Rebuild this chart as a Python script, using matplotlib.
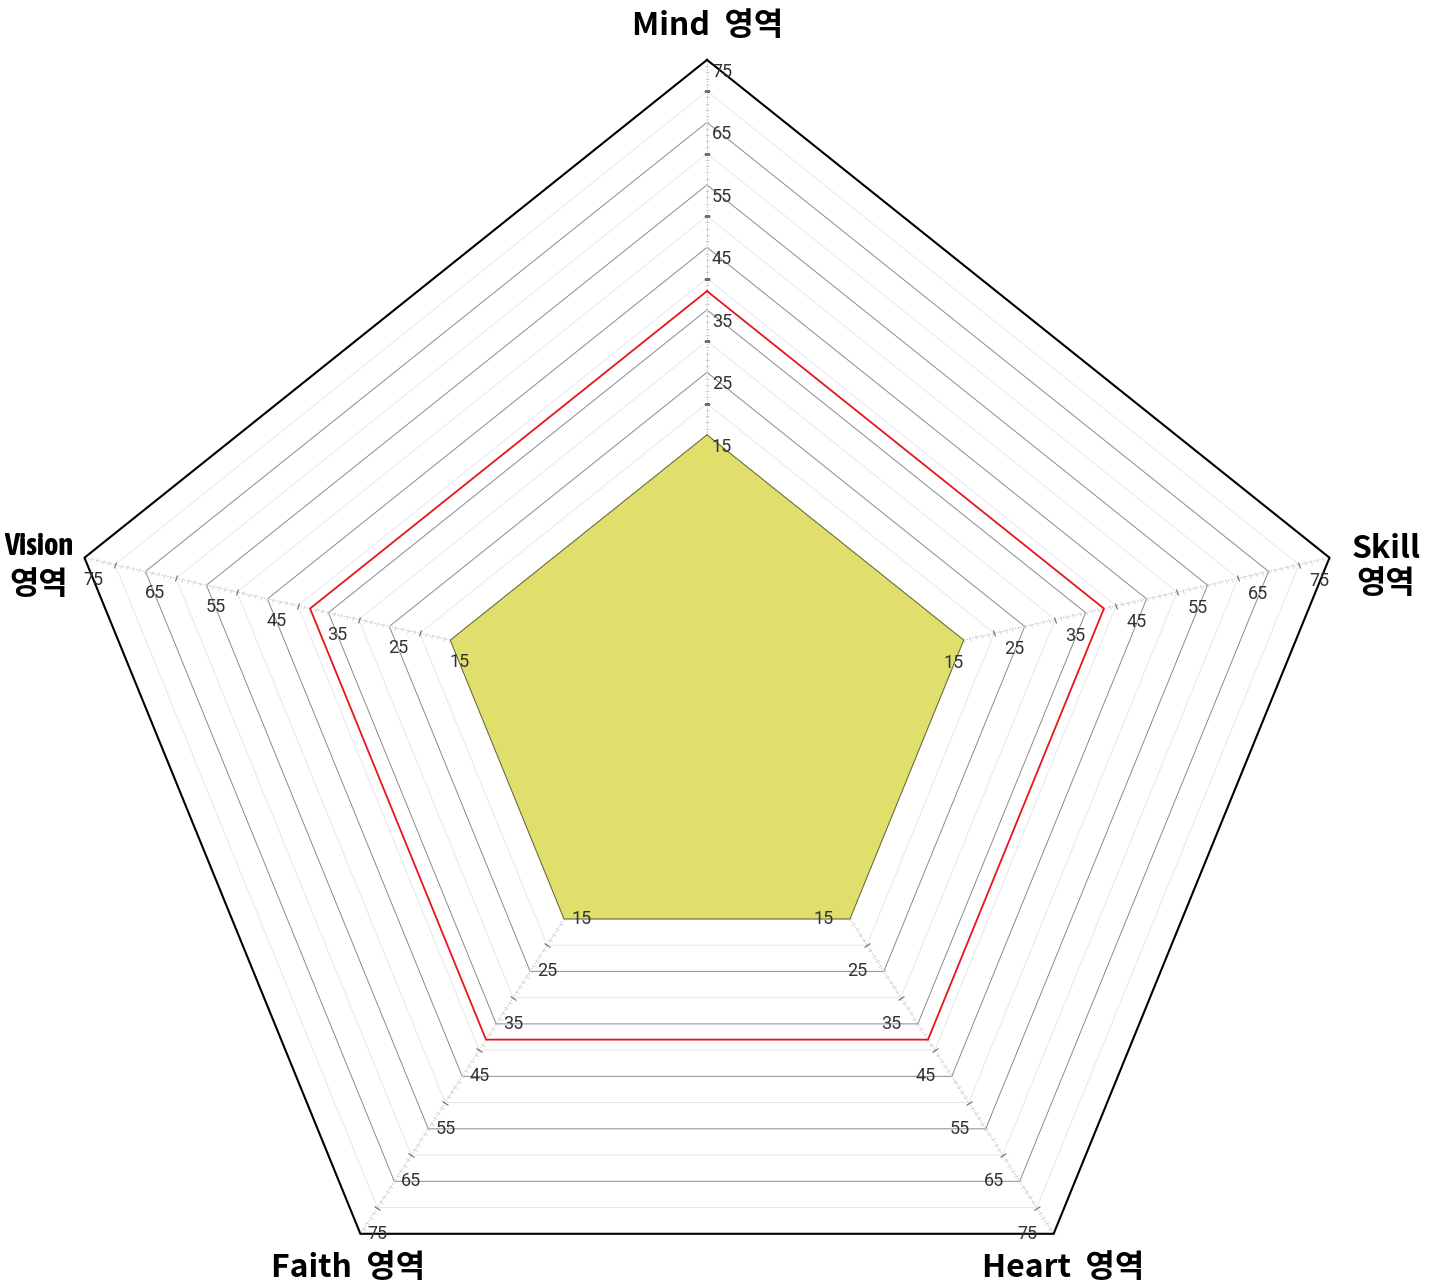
import numpy as np
import matplotlib
matplotlib.use('Agg')
import matplotlib.pyplot as plt
from matplotlib import font_manager
from matplotlib.markers import MarkerStyle
from matplotlib.transforms import Affine2D

# data
categories = ['Mind  영역', 'Skill\n영역', 'Heart  영역', 'Faith  영역', 'Vision\n영역']
score = [15, 15, 15, 15, 15]
reference = [38, 38, 38, 38, 38]
tick_values = [15, 25, 35, 45, 55, 65, 75]
minor_grid = [20, 30, 40, 50, 60, 70]

# axis directions as drawn in the source (degrees, counter-clockwise from east)
angles_deg = [90, 12.7, -57.1, -122.9, 167.3]
theta = np.deg2rad(angles_deg)
theta_closed = np.append(theta, theta[0])

def closed(v):
    return list(v) + [v[0]]

W, H = 1435, 1287
fig = plt.figure(figsize=(W / 100, H / 100), dpi=100)

# place the polar axes so that the centre and radial scale match the picture
cx, cy = 707, 698
rmin, rmax = -27.1, 80
R = (rmax - rmin) * 6.25
ax = fig.add_axes([(cx - R) / W, (H - cy - R) / H, 2 * R / W, 2 * R / H],
                  projection='polar')
ax.set_ylim(rmin, rmax)
ax.set_xticks([])
ax.set_yticks([])
ax.grid(False)
ax.spines['polar'].set_visible(False)
ax.patch.set_visible(False)

# polygon grid
for v in minor_grid:
    ax.plot(theta_closed, [v] * 6, color='#e4e4e4', lw=0.6, zorder=1)
for v in tick_values[:-1]:
    ax.plot(theta_closed, [v] * 6, color='#8a8a8a', lw=0.7, zorder=2)
ax.plot(theta_closed, [tick_values[-1]] * 6, color='black', lw=1.5, zorder=3)

# spokes with small ticks
fine = np.arange(tick_values[0], tick_values[-1] + 1)
for t, a in zip(theta, angles_deg):
    ax.plot([t, t], [tick_values[0], tick_values[-1]], color='#c4c4c4', lw=0.7,
            ls=(0, (1.5, 1.5)), zorder=2)
    m = MarkerStyle('|', transform=Affine2D().rotate_deg(a))
    ax.plot([t] * len(fine), fine, ls='none', marker=m, ms=3.5,
            mew=0.6, color='#cfcfcf', zorder=2)
    ax.plot([t] * len(minor_grid), minor_grid, ls='none', marker=m, ms=5,
            mew=0.8, color='#707070', zorder=2)

# series
ax.fill(theta_closed, closed(score), color='#e1df6b', zorder=4)
ax.plot(theta_closed, closed(score), color='#555555', lw=0.6, zorder=5)
ax.plot(theta_closed, closed(reference), color='#e8141e', lw=1.3, zorder=5)

# tick labels along every axis
label_offsets = [((5, -12), 'left'), ((0, -23), 'right'), ((-16, 0), 'right'),
                 ((7, 0), 'left'), ((-1, -22), 'left')]
for t, (off, ha) in zip(theta, label_offsets):
    for v in tick_values:
        ax.annotate(str(v), xy=(t, v), xytext=off, textcoords='offset pixels',
                    ha=ha, va='center', fontsize=13, color='#333333',
                    family=['Roboto', 'DejaVu Sans'], fontweight='normal',
                    zorder=6, annotation_clip=False)

# category labels
cjk = ['Noto Sans CJK KR', 'DejaVu Sans']
label_pos = [(708, 26), (1386, 566), (1063, 1268), (348, 1268)]
for name, (x, y) in zip(categories[:4], label_pos):
    fig.text(x / W, 1 - y / H, name, ha='center', va='center', fontsize=23,
             fontweight='bold', family=cjk, linespacing=1.12)

# the Vision label is squeezed in the source, look for a bold narrow face
def _weight(f):
    w = f.weight
    if isinstance(w, str):
        return font_manager.weight_dict.get(w, 400)
    return w

narrow = [f for f in font_manager.fontManager.ttflist
          if ('Narrow' in f.name or 'Condensed' in f.name) and _weight(f) >= 600]
narrow.sort(key=lambda f: (abs(_weight(f) - 700), f.fname))
vis_word, vis_kr = categories[4].split('\n')
if narrow:
    fig.text(39 / W, 1 - 546 / H, vis_word, ha='center', va='center',
             fontproperties=font_manager.FontProperties(fname=narrow[0].fname,
                                                        size=22))
else:
    fig.text(39 / W, 1 - 546 / H, vis_word, ha='center', va='center',
             fontsize=17, fontweight='bold', family=cjk)
fig.text(39 / W, 1 - 585 / H, vis_kr, ha='center', va='center', fontsize=23,
         fontweight='bold', family=cjk)

fig.savefig('out.png', dpi=100)
